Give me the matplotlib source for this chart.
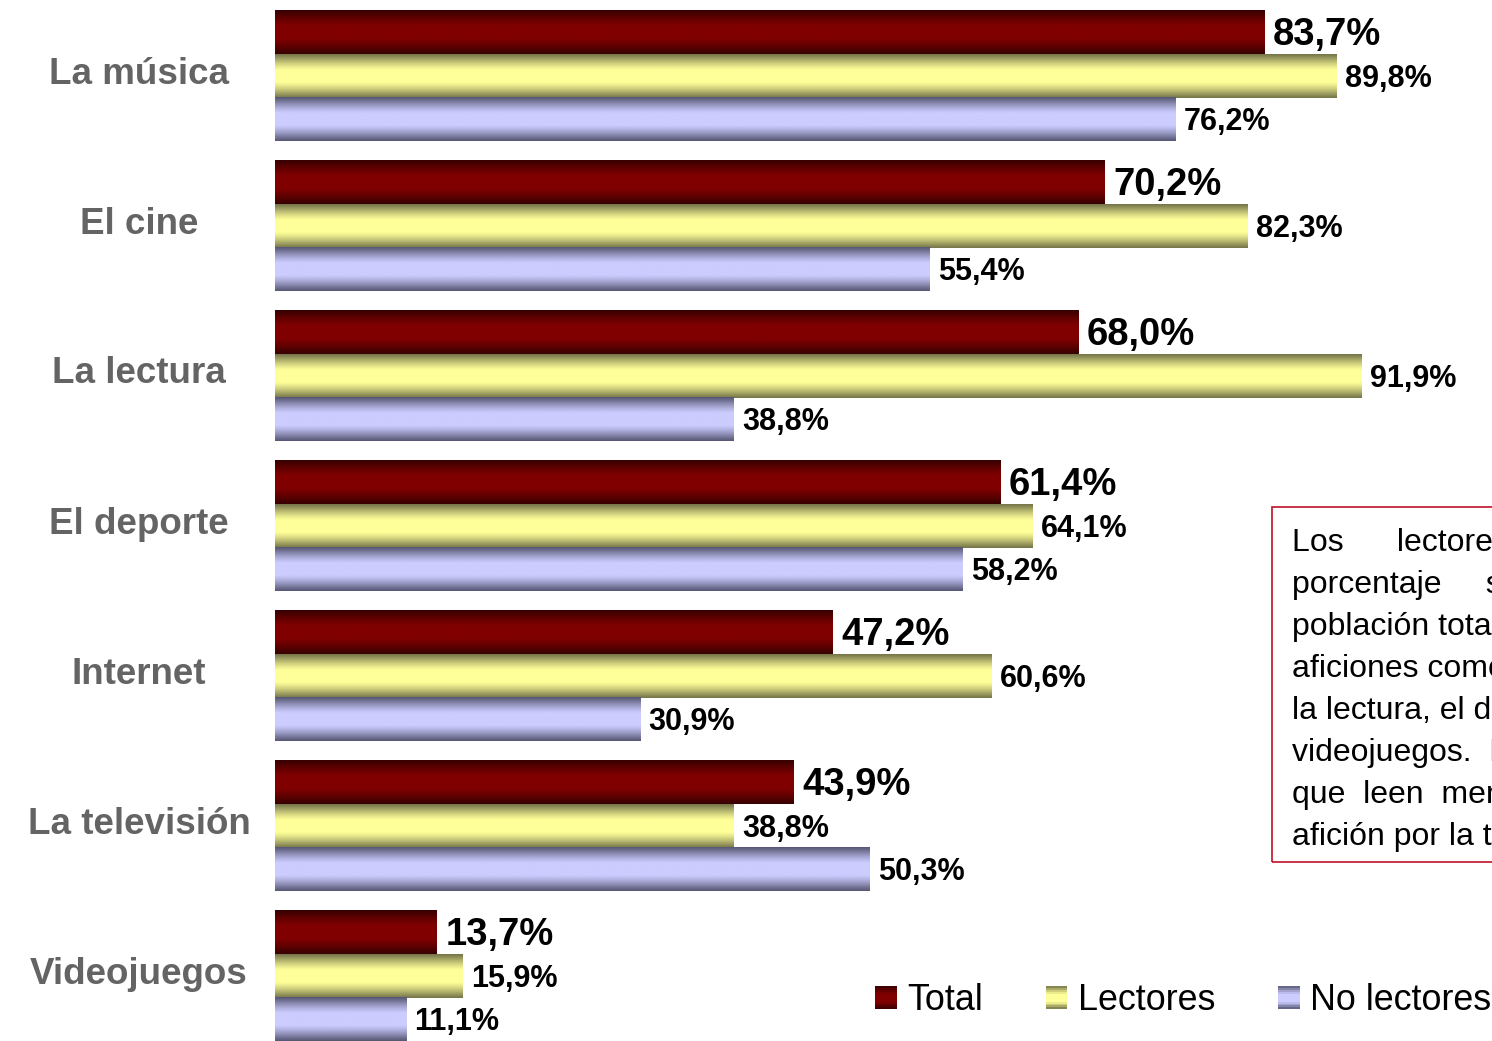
import matplotlib
matplotlib.use("Agg")
import matplotlib.pyplot as plt
import numpy as np
from matplotlib.colors import LinearSegmentedColormap
from matplotlib.patches import Rectangle
from matplotlib.legend_handler import HandlerBase

plt.rcParams['font.family'] = ['Liberation Sans', 'DejaVu Sans']

categories = ['La música', 'El cine', 'La lectura', 'El deporte',
              'Internet', 'La televisión', 'Videojuegos']
total = [83.7, 70.2, 68.0, 61.4, 47.2, 43.9, 13.7]
lectores = [89.8, 82.3, 91.9, 64.1, 60.6, 38.8, 15.9]
no_lectores = [76.2, 55.4, 38.8, 58.2, 30.9, 50.3, 11.1]
series_names = ['Total', 'Lectores', 'No lectores']

box_lines = ['Los      lectores', 'porcentaje     superior', 'población total',
             'aficiones como', 'la lectura, el deporte', 'videojuegos.  Los',
             'que  leen  menos', 'afición por la televisión']


def cyl_cmap(edge, center):
    return LinearSegmentedColormap.from_list('c', [edge, center], N=256)


cmaps = [cyl_cmap('#380000', '#800000'),
         cyl_cmap('#76764a', '#ffff99'),
         cyl_cmap('#585876', '#ccccff')]
solid = ['#800000', '#ffff99', '#ccccff']


def shade(t):
    # 0 = borde oscuro, 1 = centro claro
    return np.clip(np.sin(np.pi * t) * 1.1, 0, 1) ** 1.1


class GradHandler(HandlerBase):
    def __init__(self, cmap):
        super().__init__()
        self.cmap = cmap

    def create_artists(self, legend, orig_handle, xdescent, ydescent,
                       width, height, fontsize, trans):
        n = 12
        arts = []
        for k in range(n):
            arts.append(Rectangle((-xdescent, -ydescent + height * k / n),
                                  width, height / n * 1.05,
                                  facecolor=self.cmap(shade((k + 0.5) / n)),
                                  edgecolor='none', transform=trans))
        return arts


def main():
    fig = plt.figure(figsize=(14.92, 10.41), dpi=100)
    ax = fig.add_axes([275 / 1492, 0, 1 - 275 / 1492, 1])

    y = np.arange(len(categories))
    h = 130 / 3 / 150
    grad = shade(np.linspace(0, 1, 64)).reshape(-1, 1)

    sizes = [27.5, 22, 22]
    for i, vals in enumerate([total, lectores, no_lectores]):
        bars = ax.barh(y + (i - 1) * h, vals, height=h, color=solid[i],
                       edgecolor='none')
        for p, v in zip(bars.patches, vals):
            x0, y0 = p.get_x(), p.get_y()
            ax.imshow(grad, cmap=cmaps[i], vmin=0, vmax=1, aspect='auto',
                      interpolation='bilinear',
                      extent=(x0, x0 + p.get_width(), y0, y0 + p.get_height()),
                      zorder=3)
            ax.annotate(f'{v:.1f}'.replace('.', ',') + '%',
                        xy=(v, y0 + p.get_height() / 2),
                        xytext=(6, -2), textcoords='offset points',
                        ha='left', va='center', fontsize=sizes[i],
                        fontweight='bold', color='black', zorder=4)

    ax.set_xlim(0, (1492 - 275) / 11.82)
    ax.set_ylim((1041 - 76) / 150, -76 / 150)
    ax.axis('off')

    for yi, name in zip(y, categories):
        fig.text(139 / 1492, 1 - (74 + 150 * yi) / 1041, name,
                 ha='center', va='center', fontsize=26.5, fontweight='bold',
                 color='#646464')

    # caja de texto (recortada por el borde)
    fig.patches.append(Rectangle((1272 / 1492, 1 - 862 / 1041), 0.2,
                                 (862 - 507) / 1041, fill=False,
                                 edgecolor='#c0102a', linewidth=1.2,
                                 transform=fig.transFigure, figure=fig))
    for k, line in enumerate(box_lines):
        fig.text(1292 / 1492, 1 - (543 + 42 * k) / 1041, line,
                 ha='left', va='center', fontsize=23, color='black')

    handles = [Rectangle((0, 0), 1, 1) for _ in series_names]
    hmap = {hd: GradHandler(cm) for hd, cm in zip(handles, cmaps)}
    fig.legend(handles, series_names, handler_map=hmap, ncol=3,
               loc='center left', bbox_to_anchor=(875 / 1492, 1 - 1001 / 1041),
               frameon=False, fontsize=25.8, handlelength=0.6,
               handleheight=0.6, handletextpad=0.3, columnspacing=1.75,
               borderpad=0, borderaxespad=0)

    fig.savefig('out.png', dpi=100)


if __name__ == "__main__":
    main()
